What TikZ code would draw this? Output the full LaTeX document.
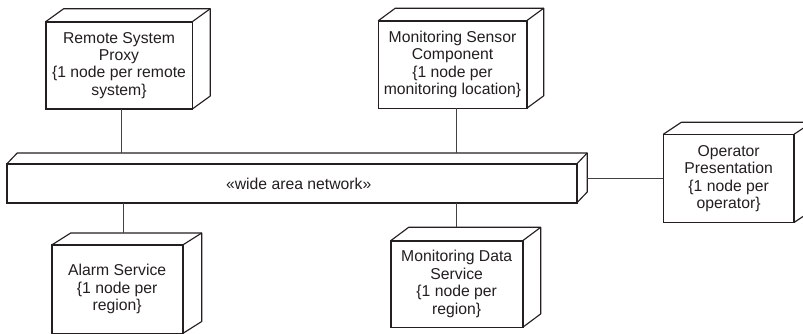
\documentclass[tikz,border=0pt]{standalone}
\usepackage{fontspec}
\setmainfont{Liberation Sans}
\definecolor{ink}{RGB}{35,31,32}
\newcommand\depthbox[3]{%
  \draw[backline] (#1.north west) -- ++(#2,#3) -- ([shift={(#2,#3)}]#1.north east)
    -- ([shift={(#2,#3)}]#1.south east) -- (#1.south east);
  \draw[backline] (#1.north east) -- ++(#2,#3);}
\begin{document}
\begin{tikzpicture}[x=0.75pt,y=-0.75pt,
  box/.style={draw=ink, line width=1.2pt, fill=white, rectangle, outer sep=0pt,
    inner sep=0pt, align=center, text=ink,
    font=\fontsize{11.8}{13.1}\selectfont},
  backline/.style={draw=ink, line width=0.85pt, line join=round},
  conn/.style={draw=ink!85, line width=0.8pt}]
\useasboundingbox (0,0) rectangle (803,333);
\clip (0,0) rectangle (803,333);

\node[box, minimum width={146.6*0.75pt}, minimum height={87.3*0.75pt}] (proxy) at (119,65.35)
  {Remote System\\Proxy\\\{1 node per remote\\system\}};
\depthbox{proxy}{18}{-13}

\node[box, minimum width={148.4*0.75pt}, minimum height={87.6*0.75pt}] (sensor) at (452.5,64.5)
  {Monitoring Sensor\\Component\\\{1 node per\\monitoring location\}};
\depthbox{sensor}{17}{-12.5}

\node[box, minimum width={570*0.75pt}, minimum height={39*0.75pt}] (net) at (291.7,183.5)
  {\hspace*{10.5pt}«wide area network»};
\depthbox{net}{10.5}{-11}

\node[box, minimum width={130.7*0.75pt}, minimum height={88.2*0.75pt}] (oper) at (728.65,178.4)
  {Operator\\Presentation\\\{1 node per\\operator\}};
\depthbox{oper}{18}{-12}

\node[box, minimum width={131*0.75pt}, minimum height={88.5*0.75pt}] (alarm) at (117.2,289.25)
  {Alarm Service\\\{1 node per\\region\}};
\depthbox{alarm}{19}{-12}

\node[box, minimum width={132*0.75pt}, minimum height={86.6*0.75pt}] (data) at (456.7,284)
  {Monitoring Data\\Service\\\{1 node per\\region\}};
\depthbox{data}{18}{-13.4}

\coordinate (nettop) at ([yshift={11*0.75pt}]net.north);
\coordinate (netright) at ([shift={(10.5,-5.5)}]net.east);
\coordinate (alarmtop) at ([shift={(6.1,-12)}]alarm.north);
\coordinate (datatop) at ([shift={(0,-13.4)}]data.north);

\draw[conn] ([xshift={2.7*0.75pt}]proxy.south) -- ([xshift={2.7*0.75pt}]proxy.south |- nettop);
\draw[conn] ([xshift={4.2*0.75pt}]sensor.south) -- ([xshift={4.2*0.75pt}]sensor.south |- nettop);
\draw[conn] (alarmtop) -- (alarmtop |- net.south);
\draw[conn] (datatop) -- (datatop |- net.south);
\draw[conn] (oper.west) -- (oper.west -| netright);
\end{tikzpicture}
\end{document}
